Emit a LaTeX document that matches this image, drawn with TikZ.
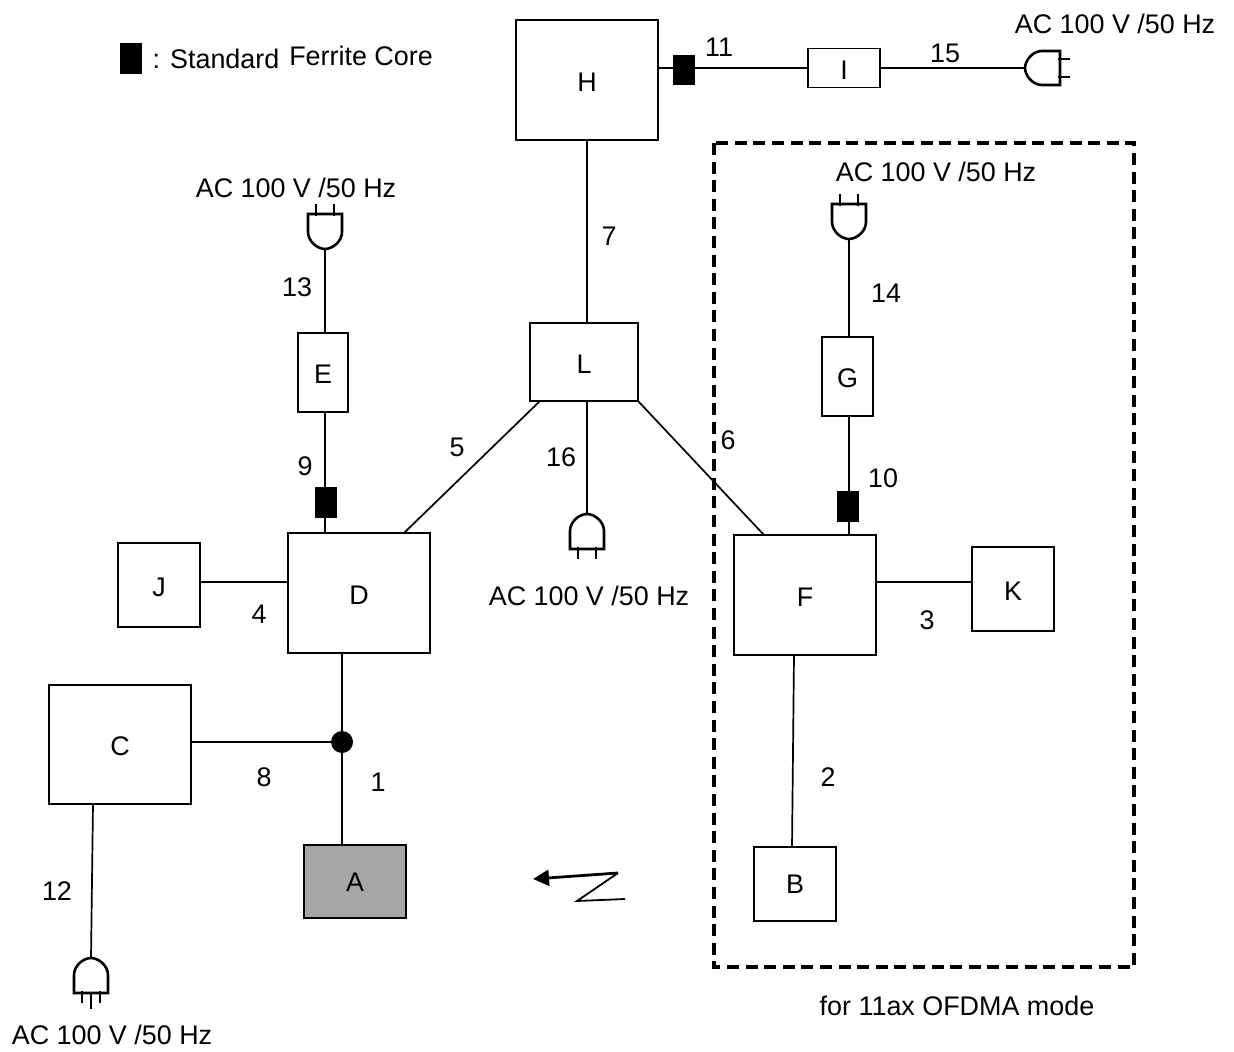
\documentclass[tikz,border=0pt]{standalone}
\usepackage{fontspec}
\setmainfont{Liberation Sans}
\usetikzlibrary{arrows.meta}
\tikzset{
  x=0.5pt,y=-0.5pt,
  every node/.style={font=\fontsize{13.45pt}{15pt}\selectfont},
  devbox/.style={draw,line width=0.7pt,inner sep=0pt,outer sep=0pt,text height=11.4pt,text depth=0pt},
  cable/.style={line width=0.85pt},
  core/.style={draw=black,fill=black,inner sep=0pt,outer sep=0pt,minimum width=10.5pt,minimum height=14.7pt},
  lbl/.style={inner sep=0pt},
  plug/.pic={
    \draw[line width=1.3pt,fill=white] (-17,35) -- (-17,17) .. controls (-17,7.6) and (-7.6,0) .. (0,0)
      .. controls (7.6,0) and (17,7.6) .. (17,17) -- (17,35) -- cycle;
    \draw[line width=0.8pt] (-9,33) -- (-9,45) (9,33) -- (9,45);
  }
}
\begin{document}
\begin{tikzpicture}
\useasboundingbox (0,0) rectangle (1234,1052);
% dashed frame
\draw[line width=2pt,dash pattern=on 6pt off 3.3pt] (714,143) rectangle (1134,967);
% boxes
\node[devbox,minimum width=71pt,minimum height=60pt] (H) at (587,80) {H};
\node[devbox,minimum width=36pt,minimum height=19.5pt] (I) at (844,68) {I};
\node[devbox,minimum width=25pt,minimum height=39.5pt] (E) at (323,372.5) {E};
\node[devbox,minimum width=54pt,minimum height=39pt] (L) at (584,362) {L};
\node[devbox,minimum width=25.5pt,minimum height=39.5pt] (G) at (847.5,376.5) {G};
\node[devbox,minimum width=41pt,minimum height=42pt] (J) at (159,585) {J};
\node[devbox,minimum width=71pt,minimum height=60pt] (D) at (359,593) {D};
\node[devbox,minimum width=71pt,minimum height=60pt] (F) at (805,595) {F};
\node[devbox,minimum width=41pt,minimum height=42pt] (K) at (1013,589) {K};
\node[devbox,minimum width=71pt,minimum height=59.5pt] (C) at (120,744.5) {C};
\node[devbox,text height=9.6pt,fill=black!35,minimum width=51pt,minimum height=36.5pt] (A) at (355,881.5) {A};
\node[devbox,text height=9.6pt,minimum width=41pt,minimum height=37pt] (B) at (795,884) {B};
% plug connection points
\coordinate (p15) at (1025,68);
\coordinate (p13) at (325,249);
\coordinate (p14) at (849,239);
\coordinate (p16) at (587,514);
\coordinate (p12) at (91,958);
% junction
\node[circle,fill=black,inner sep=0pt,outer sep=0pt,minimum size=11pt] (dot) at (342,742) {};
% cables
\draw[cable] (H.south) -- (H.south |- L.north);
\draw[cable] (H.east |- I.west) -- (I.west);
\draw[cable] (I.east) -- (p15);
\draw[cable] (p13) -- (p13 |- E.north);
\draw[cable] (p13 |- E.south) -- (p13 |- D.north);
\draw[cable] (p14) -- (p14 |- G.north);
\draw[cable] (p14 |- G.south) -- (p14 |- F.north);
\coordinate (LDa) at (540,401); \coordinate (LDb) at (404,533);
\coordinate (LFa) at (638,401); \coordinate (LFb) at (764,535);
\draw[cable] (LDa) -- (LDb);
\draw[cable] (LFa) -- (LFb);
\draw[cable] (p16 |- L.south) -- (p16);
\draw[cable] (J.east |- 0,582) -- (D.west |- 0,582);
\draw[cable] (F.east |- 0,582) -- (K.west |- 0,582);
\draw[cable] (dot |- D.south) -- (dot.north);
\draw[cable] (dot.south) -- (dot |- A.north);
\draw[cable] (C.east |- dot) -- (dot.west);
\coordinate (FBa) at (794,655); \coordinate (FBb) at (792,847);
\draw[cable] (FBa) -- (FBb);
\coordinate (CPa) at (93,804);
\draw[cable] (CPa) -- (p12);
% ferrite cores
\node[core] (coreLegend) at (131,58.5) {};
\node[core] (coreH) at (684,70) {};
\node[core] (coreE) at (325.5,502.5) {};
\node[core] (coreG) at (847.5,506.5) {};
% plugs
\pic[rotate=90] at (p15) {plug};
\pic[rotate=180] at (p13) {plug};
\pic[rotate=180] at (p14) {plug};
\pic at (p16) {plug};
\pic at (p12) {plug};
\coordinate (p12b) at (91,992);
\draw[line width=0.8pt] (p12b) -- (91,1009);
% wireless symbol
\coordinate (w1) at (625,899); \coordinate (w2) at (577,901); \coordinate (w3) at (618,873); \coordinate (w4) at (533,879);
\draw[line width=0.9pt] (w1) -- (w2) -- (w3);
\draw[line width=1.4pt,-{Triangle[length=8pt,width=8pt]}] (w3) -- (w4);
% labels
\node[lbl] (tCore) at (216,59) {: Standard};
\node[lbl] (tFerr) at (361,56) {Ferrite Core};
\node[lbl] (t11) at (719,47) {11};
\node[lbl] (t15) at (945,53) {15};
\node[lbl] (t7) at (609,236) {7};
\node[lbl] (t13) at (297,287) {13};
\node[lbl] (t14) at (886,293) {14};
\node[lbl] (t5) at (457,447) {5};
\node[lbl] (t16) at (561,457) {16};
\node[lbl] (t6) at (728,440) {6};
\node[lbl] (t9) at (305,466) {9};
\node[lbl] (t10) at (883,478) {10};
\node[lbl] (t4) at (259,614) {4};
\node[lbl] (t3) at (927,620) {3};
\node[lbl] (t8) at (264,777) {8};
\node[lbl] (t1) at (378,782) {1};
\node[lbl] (t2) at (828,777) {2};
\node[lbl] (t12) at (57,891) {12};
\node[lbl] (ac1) at (1115,24) {AC 100 V /50 Hz};
\node[lbl] (ac2) at (296,188) {AC 100 V /50 Hz};
\node[lbl] (ac3) at (936,172) {AC 100 V /50 Hz};
\node[lbl] (ac4) at (589,596) {AC 100 V /50 Hz};
\node[lbl] (ac5) at (112,1035) {AC 100 V /50 Hz};
\node[lbl] (tMode) at (957,1006) {for 11ax OFDMA mode};
\end{tikzpicture}
\end{document}
